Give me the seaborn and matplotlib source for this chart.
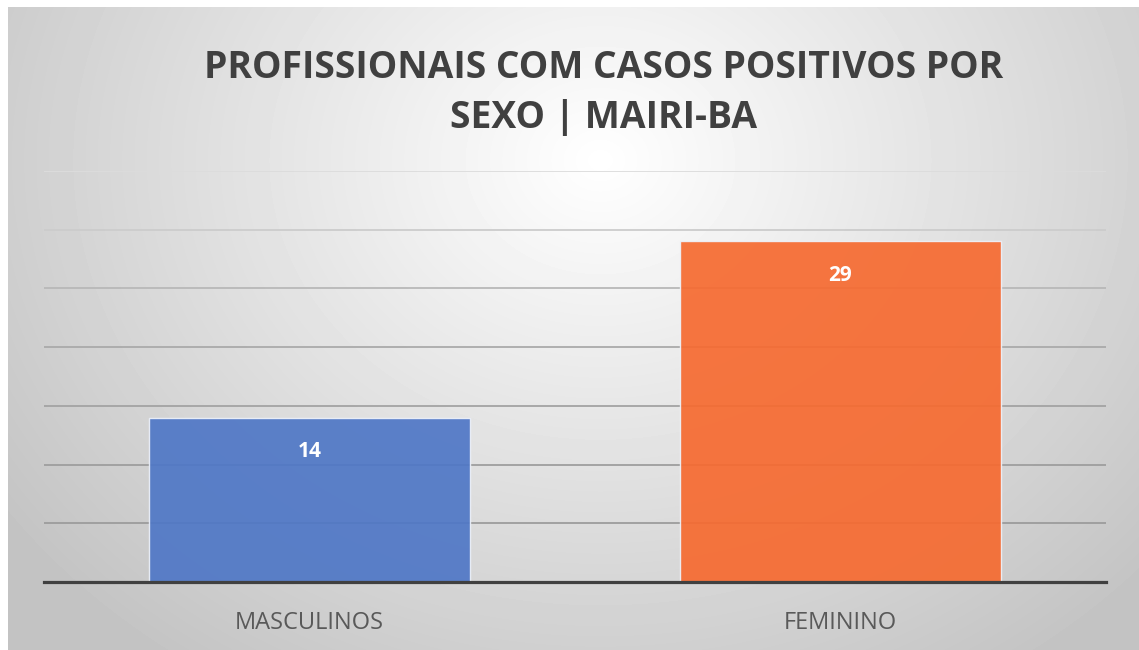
import matplotlib
matplotlib.use("Agg")
import matplotlib.pyplot as plt
import numpy as np
import seaborn as sns

# data
categories = ["MASCULINOS", "FEMININO"]
values = [14, 29]
bar_colors = ["#4F77C6", "#F66A30"]
title_lines = ["PROFISSIONAIS COM CASOS POSITIVOS POR", "SEXO | MAIRI-BA"]
y_ticks = [0, 5, 10, 15, 20, 25, 30, 35]

sns.set_style("white")
plt.rcParams['font.family'] = ['Open Sans', 'DejaVu Sans']

W, H = 1139, 650
fig = plt.figure(figsize=(W / 100, H / 100), dpi=100, facecolor="white")

# panel with soft radial gradient
bg = fig.add_axes([8 / W, 0, 1 - 8 / W, 1 - 7 / H])
yy, xx = np.mgrid[7:H, 8:W]
d = np.sqrt(((xx - 600) / 640.0) ** 2 + ((yy - 160) / 540.0) ** 2)
shade = np.clip(255 - 52 * d, 195, 255) / 255.0
bg.imshow(shade, cmap="gray", vmin=0, vmax=1, aspect="auto", interpolation="bilinear")
bg.set_axis_off()

# plot area
ax = fig.add_axes([44 / W, (H - 582) / H, (1106 - 44) / W, (582 - 171) / H])
ax.patch.set_alpha(0)
sns.barplot(x=categories, y=values, hue=categories, palette=bar_colors,
            saturation=1, width=0.605, legend=False, alpha=0.92,
            edgecolor="#eef2fa", linewidth=1.0, ax=ax)

ax.set_ylim(0, 35)
ax.set_xlim(-0.5, 1.5)
ax.set_yticks(y_ticks)
ax.set_axisbelow(True)
ax.yaxis.grid(True, linewidth=1.3)
grid_cols = ["#a0a0a0", "#9c9c9c", "#9e9e9e", "#a3a3a3", "#aaaaaa", "#b8b8b8", "#cccccc", "#dcdcdc"]
for gl, c in zip(ax.yaxis.get_gridlines(), grid_cols):
    gl.set_color(c)
ax.get_yaxis().set_ticklabels([])
ax.tick_params(axis="y", length=0)
ax.tick_params(axis="x", length=0, pad=21, labelsize=17, labelcolor="#595959")
for s in ["top", "right", "left"]:
    ax.spines[s].set_visible(False)
ax.spines["bottom"].set_color("#404040")
ax.spines["bottom"].set_linewidth(2.3)
ax.set_xlabel("")
ax.set_ylabel("")

# value labels inside bars
for p in ax.patches:
    ax.annotate(f"{p.get_height():.0f}", (p.get_x() + p.get_width() / 2, p.get_height()),
                xytext=(0, -24.5), textcoords="offset points", ha="center", va="center",
                color="white", fontsize=15, fontweight="bold")

fig.text(604 / W, 1 - 68 / H, title_lines[0], ha="center", va="center",
         fontsize=26.8, fontweight="bold", color="#404040")
fig.text(604 / W, 1 - 118 / H, title_lines[1], ha="center", va="center",
         fontsize=26.8, fontweight="bold", color="#404040")

fig.savefig("out.png", dpi=100)
